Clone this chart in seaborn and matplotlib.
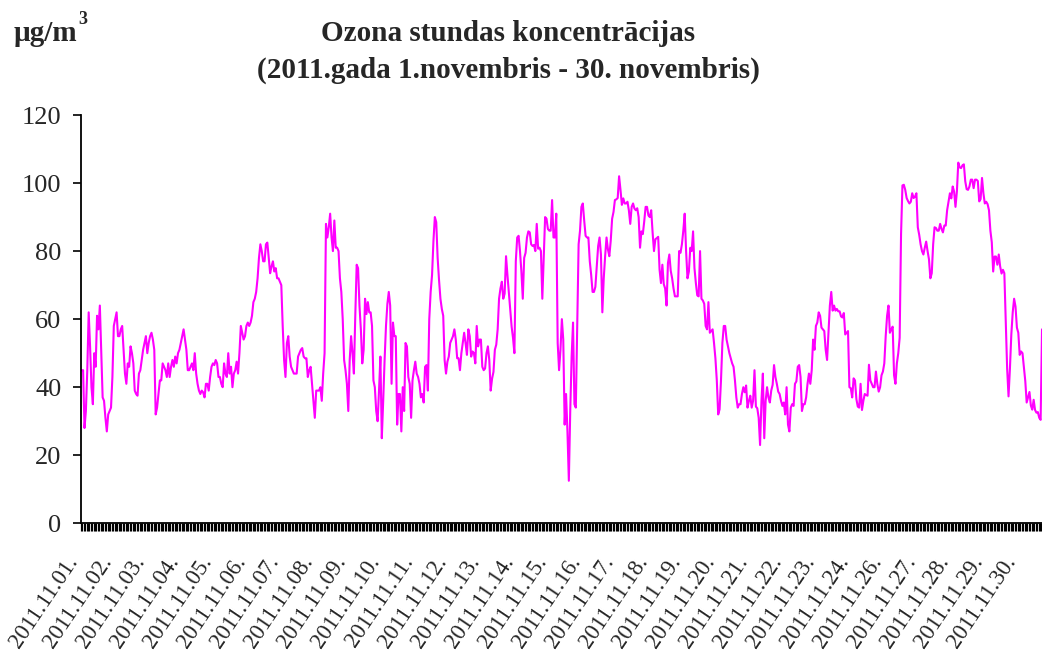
import matplotlib
matplotlib.use('Agg')
import matplotlib.pyplot as plt
import matplotlib.transforms as mtransforms
import numpy as np
import seaborn as sns

# Hourly ozone concentrations (ug/m3).
# 25 November has no data in the source, the last day is cut at the right edge.
ozone_01_07 = [
    45, 45, 28, 33, 45, 62, 52, 40, 35, 50, 46, 61, 57, 64, 50, 37, 36, 31, 27, 32, 33, 34, 43, 58,
    60, 62, 55, 55, 57, 58, 51, 44, 41, 47, 46, 52, 50, 47, 39, 38, 37.5, 44, 45, 48, 51, 53, 55, 50,
    53, 55, 56, 54, 51, 32, 34, 38, 42, 42, 47, 46, 45, 43, 47, 43, 46, 48, 46, 49, 47, 50, 51, 53,
    55, 57, 54, 51, 45, 45, 46, 47, 45, 50, 44, 41, 39, 38, 39, 38.5, 37, 41, 41, 39, 43, 46, 47, 46.5,
    48, 47, 43, 43, 41, 40, 47, 44, 43, 50, 44, 46, 40, 44, 45, 47.5, 44, 50, 58, 56, 54, 55, 58, 59,
    58, 59, 61, 65, 66, 68, 72, 78, 82, 80, 77, 77, 82, 82.5, 78, 73.5, 75.5, 77, 74, 75, 72, 72, 71, 70,
    58, 48, 43, 53, 55, 49, 46, 45, 44, 44, 44, 49, 50, 51, 51.5, 49, 48.5, 48.5, 43, 45, 46, 41, 36, 31,
]
ozone_08_14 = [
    39, 39, 39, 40, 36, 44, 50, 88, 84, 87, 91, 84, 80, 89, 81, 81, 80, 72, 68, 60, 48, 45, 41, 33,
    48, 55, 50, 44, 61, 76, 75, 64, 57, 47, 51, 66, 61.5, 65, 62, 62, 58, 42, 40, 33, 30, 39, 49, 25,
    36, 48, 58, 64.5, 68, 64, 41, 59, 55, 55, 29, 38, 38, 27, 40, 33, 53, 52, 43, 41, 31, 42, 45, 47.5,
    44, 43, 41, 37, 38, 35.5, 46, 46.5, 39, 60, 68, 73, 83, 90, 88.5, 78, 71.5, 66, 63, 61, 48, 44, 47.5, 49,
    53, 54, 55, 57, 54, 48.5, 48.5, 45, 50, 53, 56, 53, 49.5, 57, 55, 49, 50.5, 50, 47, 58, 52, 54, 54, 46,
    45, 45.5, 50, 52, 48, 39, 42.5, 44.5, 51, 52.5, 57, 66, 69, 71, 66, 67.5, 78.5, 73, 68, 63, 57.8, 54.5, 50, 77,
    84, 84.5, 80, 74, 66, 78, 79.5, 84, 85.8, 85.5, 82, 81.5, 81.8, 80, 88, 80.7, 81, 80, 66, 78, 90, 89.5, 86.5, 86,
]
ozone_15_21 = [
    86, 95, 84, 84, 91, 53, 45, 51, 60, 54, 29, 38, 27, 12.5, 33, 49, 59, 35, 34, 58, 82, 86, 93, 94,
    89, 84.5, 84, 84, 77, 73, 68, 68, 69.5, 75.5, 81.5, 84, 79, 62, 72, 78.5, 84, 80.5, 78.5, 83, 89.5, 91.5, 95, 95.2,
    95.6, 102, 98, 93.6, 95.5, 94, 94, 94.5, 92, 88, 93, 94, 92.5, 92, 92.6, 90, 81, 85.8, 85, 88.7, 93, 93, 90.5, 90,
    92, 85.5, 80, 83.5, 83.8, 84.2, 74.5, 70.6, 76, 70.3, 69, 64, 76.5, 79, 74.2, 72, 69, 66.7, 66.7, 66.7, 80, 79.5, 82, 86,
    91, 80, 72, 74, 81, 80, 85.8, 75, 70.6, 67, 66.7, 80, 66, 65.5, 64.5, 58, 57, 65, 56, 56.5, 57, 53, 48.5, 42,
    32, 33.5, 42, 53, 58, 58, 54, 52, 50, 48.5, 47, 46, 42, 37, 34, 35, 35, 38, 40, 38.5, 40.5, 34, 36, 37.5,
    34, 36, 45, 34.3, 33.8, 31, 23, 36, 44, 25, 36, 40, 37, 35.5, 39, 40.7, 46.5, 43, 41, 38.7, 38, 36, 34.5, 35.5,
]
ozone_22_30 = [
    32, 40, 29, 27, 34, 35, 34.5, 41, 41.7, 46, 46.5, 43, 33, 35, 35, 37, 41, 44, 41, 45, 54, 51, 58, 59,
    62, 61, 57.5, 57, 56.5, 51, 48, 56, 64, 68, 62.5, 64, 62.5, 63, 62.3, 62.3, 60.8, 60.5, 61.8, 55.5, 56, 56.5, 40, 39.7,
    37, 42.6, 42, 36.5, 34.3, 34, 41, 33.3, 36, 38, 37.7, 37.5, 46.6, 42, 41, 40, 40, 44.6, 41, 38.7, 40, 43.5, 44.6, 47,
    55, 61, 64, 56, 57, 57.8, 43.5, 41, 47, 50, 54.5, 85, 99.3, 99.5, 98, 95.6, 94.7, 94, 94.5, 97, 95.6, 96, 97, 87,
    84.8, 82, 80, 79, 81, 82.8, 80, 77.6, 72, 73.5, 82, 87, 86.8, 86, 86, 88, 86.5, 85.5, 87.5, 87.5, 92, 94.5, 97, 95.5,
    99, 97.5, 93, 97.5, 106, 104.6, 104.4, 105.2, 105.5, 100.5, 98.2, 98, 99, 101, 101, 98.5, 101, 101, 100.6, 94.6, 95.3, 101.5, 97, 94,
    94.5, 93.8, 92, 86, 82.6, 74, 78.4, 78.4, 76, 79, 75.5, 73.4, 74.5, 73.5, 60, 45.5, 37.3, 45.5, 55.5, 62, 66, 63.7, 57.5, 56,
    49.5, 50.5, 50, 46, 41.8, 35.5, 37, 38.6, 34.6, 33.4, 36.3, 33.3, 32.5, 32.7, 31, 30.4, 57,
]

day_numbers = [1, 2, 3, 4, 5, 6, 7, 8, 9, 10, 11, 12, 13, 14, 15, 16, 17, 18, 19, 20,
               21, 22, 23, 24, 26, 27, 28, 29, 30]
y_ticks = [0, 20, 40, 60, 80, 100, 120]

ozone = ozone_01_07 + ozone_08_14 + ozone_15_21 + ozone_22_30
hours = np.arange(len(ozone))
n_hours = 24 * len(day_numbers)
tick_labels = ['2011.11.%02d.' % d for d in day_numbers]

sns.set_style('white')
plt.rcParams['font.family'] = ['Liberation Serif', 'DejaVu Serif']

W, H = 1042, 653
fig = plt.figure(figsize=(W / 100, H / 100), dpi=100)
# the source picture is cropped on the right, so the axes run past the edge
ax = fig.add_axes([81 / W, (H - 523.3) / H, 971.5 / W, 408.3 / H])

sns.lineplot(x=hours, y=ozone, ax=ax, color='#ff00ff', linewidth=1.5)

ax.set_xlim(-0.5, n_hours - 0.5)
ax.set_ylim(0, 120)
ax.set_yticks(y_ticks)
ax.set_xticks(np.arange(0, n_hours, 24))
ax.set_xticklabels(tick_labels, rotation=56, ha='right', va='baseline',
                   rotation_mode='anchor', fontsize=16.5)
ax.set_xticks(np.arange(-0.5, n_hours, 1), minor=True)
ax.tick_params(axis='x', which='major', bottom=True, length=0, pad=27)
ax.tick_params(axis='x', which='minor', bottom=True, length=5.8, width=0.85,
               color='black', direction='out')
ax.tick_params(axis='y', left=True, length=6, width=1.2, pad=8, labelsize=19,
               color='black', direction='out')
ax.set_xlabel('')
ax.set_ylabel('')

for side in ['top', 'right']:
    ax.spines[side].set_visible(False)
for side in ['left', 'bottom']:
    ax.spines[side].set_color('black')
    ax.spines[side].set_linewidth(1.3)

offset = mtransforms.ScaledTranslation(-0.03, 0, fig.dpi_scale_trans)
for lbl in ax.get_xticklabels():
    lbl.set_transform(lbl.get_transform() + offset)

fig.text(508 / W, 1 - 41 / H, 'Ozona stundas koncentrācijas', ha='center',
         va='baseline', fontsize=21, fontweight='bold')
fig.text(508 / W, 1 - 78 / H, '(2011.gada 1.novembris - 30. novembris)',
         ha='center', va='baseline', fontsize=21, fontweight='bold')
fig.text(14 / W, 1 - 41 / H, 'µg/m', ha='left', va='baseline', fontsize=21,
         fontweight='bold')
fig.text(78 / W, 1 - 24 / H, '3', ha='left', va='baseline', fontsize=13,
         fontweight='bold')

fig.savefig('out.png', dpi=100)
